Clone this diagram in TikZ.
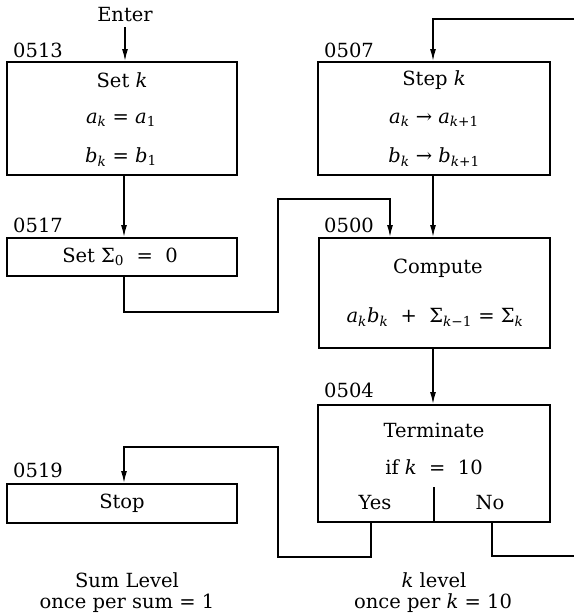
\documentclass[tikz,border=0pt]{standalone}
\usepackage{fontspec}
\setmainfont{DejaVu Serif}
\usetikzlibrary{arrows.meta}
\newcommand{\myit}[1]{\textit{#1}}
\newcommand{\mysub}[1]{\textsubscript{#1}}
\tikzset{
  box/.style={draw, line width=2pt, rectangle, inner sep=0pt},
  txt/.style={inner sep=0pt, font=\fontsize{19.5}{23}\selectfont},
  lbl/.style={inner sep=0pt, anchor=west, font=\fontsize{19.5}{23}\selectfont},
  conn/.style={line width=1.4pt},
  arr/.style={line width=1.4pt, -{Latex[length=12pt,width=6pt]}}
}
\begin{document}
\begin{tikzpicture}[x=1pt,y=-1pt]
\useasboundingbox (0,0) rectangle (574,614);
% boxes
\node[box, minimum width=230pt, minimum height=113pt] (setk) at (122,118.5) {};
\node[box, minimum width=230pt, minimum height=38pt] (setsum) at (122,257) {};
\node[box, minimum width=230pt, minimum height=39pt] (stop) at (122,503.5) {};
\node[box, minimum width=232pt, minimum height=113pt] (stepk) at (434,118.5) {};
\node[box, minimum width=231pt, minimum height=110pt] (compute) at (434.5,293) {};
\node[box, minimum width=232pt, minimum height=117pt] (term) at (434,463.5) {};
% labels
\node[lbl] (l0513) at (13,50) {0513};
\node[lbl] (l0517) at (13,225) {0517};
\node[lbl] (l0519) at (13,470) {0519};
\node[lbl] (l0507) at (324,50) {0507};
\node[lbl] (l0500) at (324,225) {0500};
\node[lbl] (l0504) at (324,390) {0504};
% texts
\node[txt] (enter) at (125,15) {Enter};
\node[txt] (t1a) at (122,80) {Set \myit{k}};
\node[txt] (t1b) at (121,120) {\myit{a}\mysub{\myit{k}} = \myit{a}\mysub{1}};
\node[txt] (t1c) at (121,157) {\myit{b}\mysub{\myit{k}} = \myit{b}\mysub{1}};
\node[txt] (t2a) at (120,257) {Set Σ\mysub{0}\ \ =\ \ 0};
\node[txt] (t3a) at (122,503) {Stop};
\node[txt] (t4a) at (434,80) {Step \myit{k}};
\node[txt] (t4b) at (434,120) {\myit{a}\mysub{\myit{k}} → \myit{a}\mysub{\myit{k}+1}};
\node[txt] (t4c) at (434,157) {\myit{b}\mysub{\myit{k}} → \myit{b}\mysub{\myit{k}+1}};
\node[txt] (t5a) at (438,268) {Compute};
\node[txt] (t5b) at (435,317) {\myit{a}\mysub{\myit{k}}\myit{b}\mysub{\myit{k}}\ \ +\ \ Σ\mysub{\myit{k}−1}\ =\ Σ\mysub{\myit{k}}};
\node[txt] (t6a) at (434,430) {Terminate};
\node[txt] (t6b) at (434,467) {if \myit{k}\ \ =\ \ 10};
\node[txt] (yes) at (375,503) {Yes};
\node[txt] (no) at (490,503) {No};
\node[txt] (f1) at (127,580) {Sum Level};
\node[txt] (f2) at (127,603) {once per sum = 1};
\node[txt] (f3) at (434,580) {\myit{k} level};
\node[txt] (f4) at (433,603) {once per \myit{k}\ =\ 10};
% divider
\coordinate (dv1) at (434,487);
\draw[conn] (dv1) -- (dv1 |- term.south);
% coordinates
\coordinate (entertop) at (125,27);
\coordinate (looptop) at (574,19);
\coordinate (loopcorner) at (433,19);
\coordinate (noend) at (574,556);
% connectors
\draw[arr] (entertop) -- (125,0 |- setk.north);
\draw[arr] (124,0 |- setk.south) -- (124,0 |- setsum.north);
\draw[arr] (124,0 |- setsum.south) -- (124,312) -- (278,312) -- (278,199) -- (390,199) -- (390,0 |- compute.north);
\draw[arr] (looptop) -- (loopcorner) -- (433,0 |- stepk.north);
\draw[arr] (433,0 |- stepk.south) -- (433,0 |- compute.north);
\draw[arr] (433,0 |- compute.south) -- (433,0 |- term.north);
\draw[arr] (371,0 |- term.south) -- (371,557) -- (278,557) -- (278,447) -- (124,447) -- (124,0 |- stop.north);
\draw[conn] (492,0 |- term.south) -- (492,556) -- (noend);
\end{tikzpicture}
\end{document}
